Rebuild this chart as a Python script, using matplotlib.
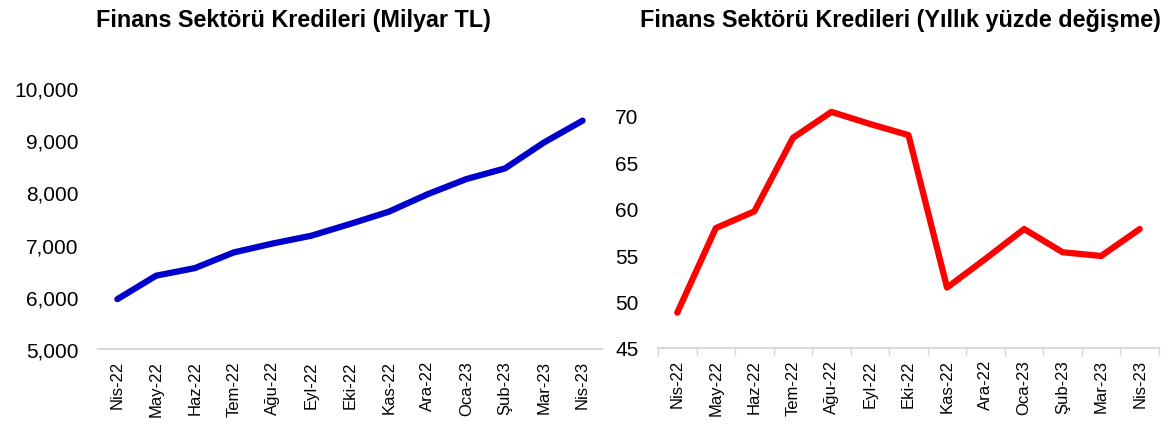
import matplotlib
matplotlib.use("Agg")
import matplotlib.pyplot as plt
from matplotlib.ticker import FuncFormatter, FixedLocator
import numpy as np

plt.rcParams['font.family'] = ['Liberation Sans', 'DejaVu Sans']

months = ["Nis-22", "May-22", "Haz-22", "Tem-22", "Ağu-22", "Eyl-22", "Eki-22",
          "Kas-22", "Ara-22", "Oca-23", "Şub-23", "Mar-23", "Nis-23"]
credits_bn = [5955, 6405, 6550, 6850, 7020, 7170, 7395, 7630, 7965, 8255, 8460, 8955, 9375]
growth_pct = [48.8, 57.9, 59.7, 67.6, 70.4, 69.1, 67.9, 51.5, 54.6, 57.8, 55.3, 54.9, 57.8]

title_left = "Finans Sektörü Kredileri (Milyar TL)"
title_right = "Finans Sektörü Kredileri (Yıllık yüzde değişme)"

W, H = 1174, 439
fig = plt.figure(figsize=(W / 100, H / 100), dpi=100)

def ax_rect(x0, y0, x1, y1):
    return [x0 / W, (H - y1) / H, (x1 - x0) / W, (y1 - y0) / H]

x = np.arange(len(months))
axis_gray = "#D9D9D9"
ytick_fs = 15
xtick_fs = 12

# Left chart
ax1 = fig.add_axes(ax_rect(98, 89, 602, 350))
ax1.plot(x, credits_bn, color="#0000CC", lw=4.5, solid_capstyle="round")
ax1.set_ylim(5000, 10000)
ax1.set_yticks(np.arange(5000, 10001, 1000))
ax1.yaxis.set_major_formatter(FuncFormatter(lambda v, p: f"{int(v):,}"))
ax1.set_xlim(-0.5, len(months) - 0.5)
ax1.set_xticks(x)
ax1.set_xticklabels(months, rotation=90)
ax1.tick_params(axis="x", length=0, pad=8, labelsize=xtick_fs)
ax1.tick_params(axis="y", length=0, pad=14, labelsize=ytick_fs)
for s in ["top", "right", "left"]:
    ax1.spines[s].set_visible(False)
ax1.spines["bottom"].set_color(axis_gray)
ax1.spines["bottom"].set_linewidth(1.5)

# Right chart
ax2 = fig.add_axes(ax_rect(658, 98, 1159, 349))
ax2.plot(x, growth_pct, color="#FF0000", lw=4.5, solid_capstyle="round")
ax2.set_ylim(45, 72)
ax2.set_yticks(np.arange(45, 71, 5))
ax2.set_xlim(-0.5, len(months) - 0.5)
ax2.set_xticks(x)
ax2.set_xticklabels(months, rotation=90)
ax2.xaxis.set_minor_locator(FixedLocator(np.arange(-0.5, len(months), 1.0)))
ax2.tick_params(axis="x", which="major", length=0, pad=8, labelsize=xtick_fs)
ax2.tick_params(axis="x", which="minor", length=6, width=1, color=axis_gray, direction="out")
ax2.tick_params(axis="y", length=0, pad=14, labelsize=ytick_fs)
for s in ["top", "right", "left"]:
    ax2.spines[s].set_visible(False)
ax2.spines["bottom"].set_color(axis_gray)
ax2.spines["bottom"].set_linewidth(1.5)

fig.text(293 / W, 1 - 20 / H, title_left, ha="center", va="center",
         fontsize=16.8, fontweight="bold")
fig.text(900 / W, 1 - 20 / H, title_right, ha="center", va="center",
         fontsize=16.8, fontweight="bold")

fig.savefig("out.png", dpi=100)
